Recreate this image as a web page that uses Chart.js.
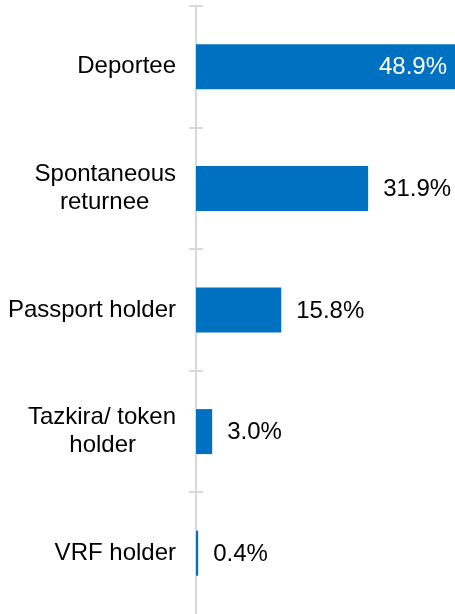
<!DOCTYPE html>
<html>
<head>
<meta charset="utf-8">
<script src="https://cdn.jsdelivr.net/npm/chart.js@4"></script>
<style>
  body { margin: 0; background: #fff; }
  canvas { display: block; }
</style>
</head>
<body>
<canvas id="myChart" width="455" height="614"></canvas>
<script>
// second lines padded with no-break spaces so they sit centred under the first
const categories = [
  "Deportee",
  ["Spontaneous", "returnee\u00a0\u00a0\u00a0\u00a0"],
  "Passport holder",
  ["Tazkira/ token", "holder\u00a0\u00a0\u00a0\u00a0\u00a0\u00a0"],
  "VRF holder",
];
const shares = [48.9, 31.9, 15.8, 3.0, 0.4];
const xMin = 0;
const xMax = 48;

const font = "Liberation Sans, Arial, sans-serif";

// small tick marks on the right side of the axis line (none at the very bottom)
const tickMarks = {
  id: "tickMarks",
  afterDraw(chart) {
    const ctx = chart.ctx;
    const y = chart.scales.y;
    const left = chart.chartArea.left;
    ctx.save();
    ctx.strokeStyle = "#d9d9d9";
    ctx.lineWidth = 2;
    for (let i = 0; i < categories.length; i++) {
      const py = Math.round(y.getPixelForValue(i - 0.5));
      ctx.beginPath();
      ctx.moveTo(left, py);
      ctx.lineTo(left + 7, py);
      ctx.stroke();
    }
    ctx.restore();
  },
};

// value labels at the end of each bar
const barLabels = {
  id: "barLabels",
  afterDatasetsDraw(chart) {
    const ctx = chart.ctx;
    const area = chart.chartArea;
    const meta = chart.getDatasetMeta(0);
    ctx.save();
    ctx.font = "24px " + font;
    ctx.textBaseline = "middle";
    meta.data.forEach((bar, i) => {
      const text = shares[i].toFixed(1) + "%";
      if (bar.x >= area.right) {
        ctx.fillStyle = "#ffffff";
        ctx.textAlign = "right";
        ctx.fillText(text, area.right - 8, bar.y + 1);
      } else {
        ctx.fillStyle = "#000000";
        ctx.textAlign = "left";
        ctx.fillText(text, bar.x + 15, bar.y + 1);
      }
    });
    ctx.restore();
  },
};

function drawChart() {
  const ctx = document.getElementById("myChart").getContext("2d");
  new Chart(ctx, {
    type: "bar",
    data: {
      labels: categories,
      datasets: [
        {
          data: shares,
          backgroundColor: "#0070C0",
          borderWidth: 0,
          categoryPercentage: 1,
          barPercentage: 0.37,
        },
      ],
    },
    options: {
      indexAxis: "y",
      responsive: false,
      animation: false,
      devicePixelRatio: 1,
      layout: { padding: { top: 6, right: 0, bottom: 0, left: 0 } },
      plugins: {
        legend: { display: false },
        tooltip: { enabled: false },
      },
      scales: {
        x: {
          display: false,
          min: xMin,
          max: xMax,
        },
        y: {
          afterFit(scale) {
            scale.width = 196;
            scale.paddingTop = 0;
            scale.paddingBottom = 0;
          },
          border: { color: "#d9d9d9", width: 2 },
          grid: {
            offset: true,
            drawOnChartArea: false,
            tickLength: 7,
            lineWidth: 2,
            // the closing line after the last category has no tick context
            color: (c) => (c.tick ? "#d9d9d9" : "rgba(0,0,0,0)"),
          },
          ticks: {
            color: "#000000",
            padding: 13,
            font: { family: font, size: 24, lineHeight: 1.15 },
          },
        },
      },
    },
    plugins: [tickMarks, barLabels],
  });
}

drawChart();
</script>
</body>
</html>
